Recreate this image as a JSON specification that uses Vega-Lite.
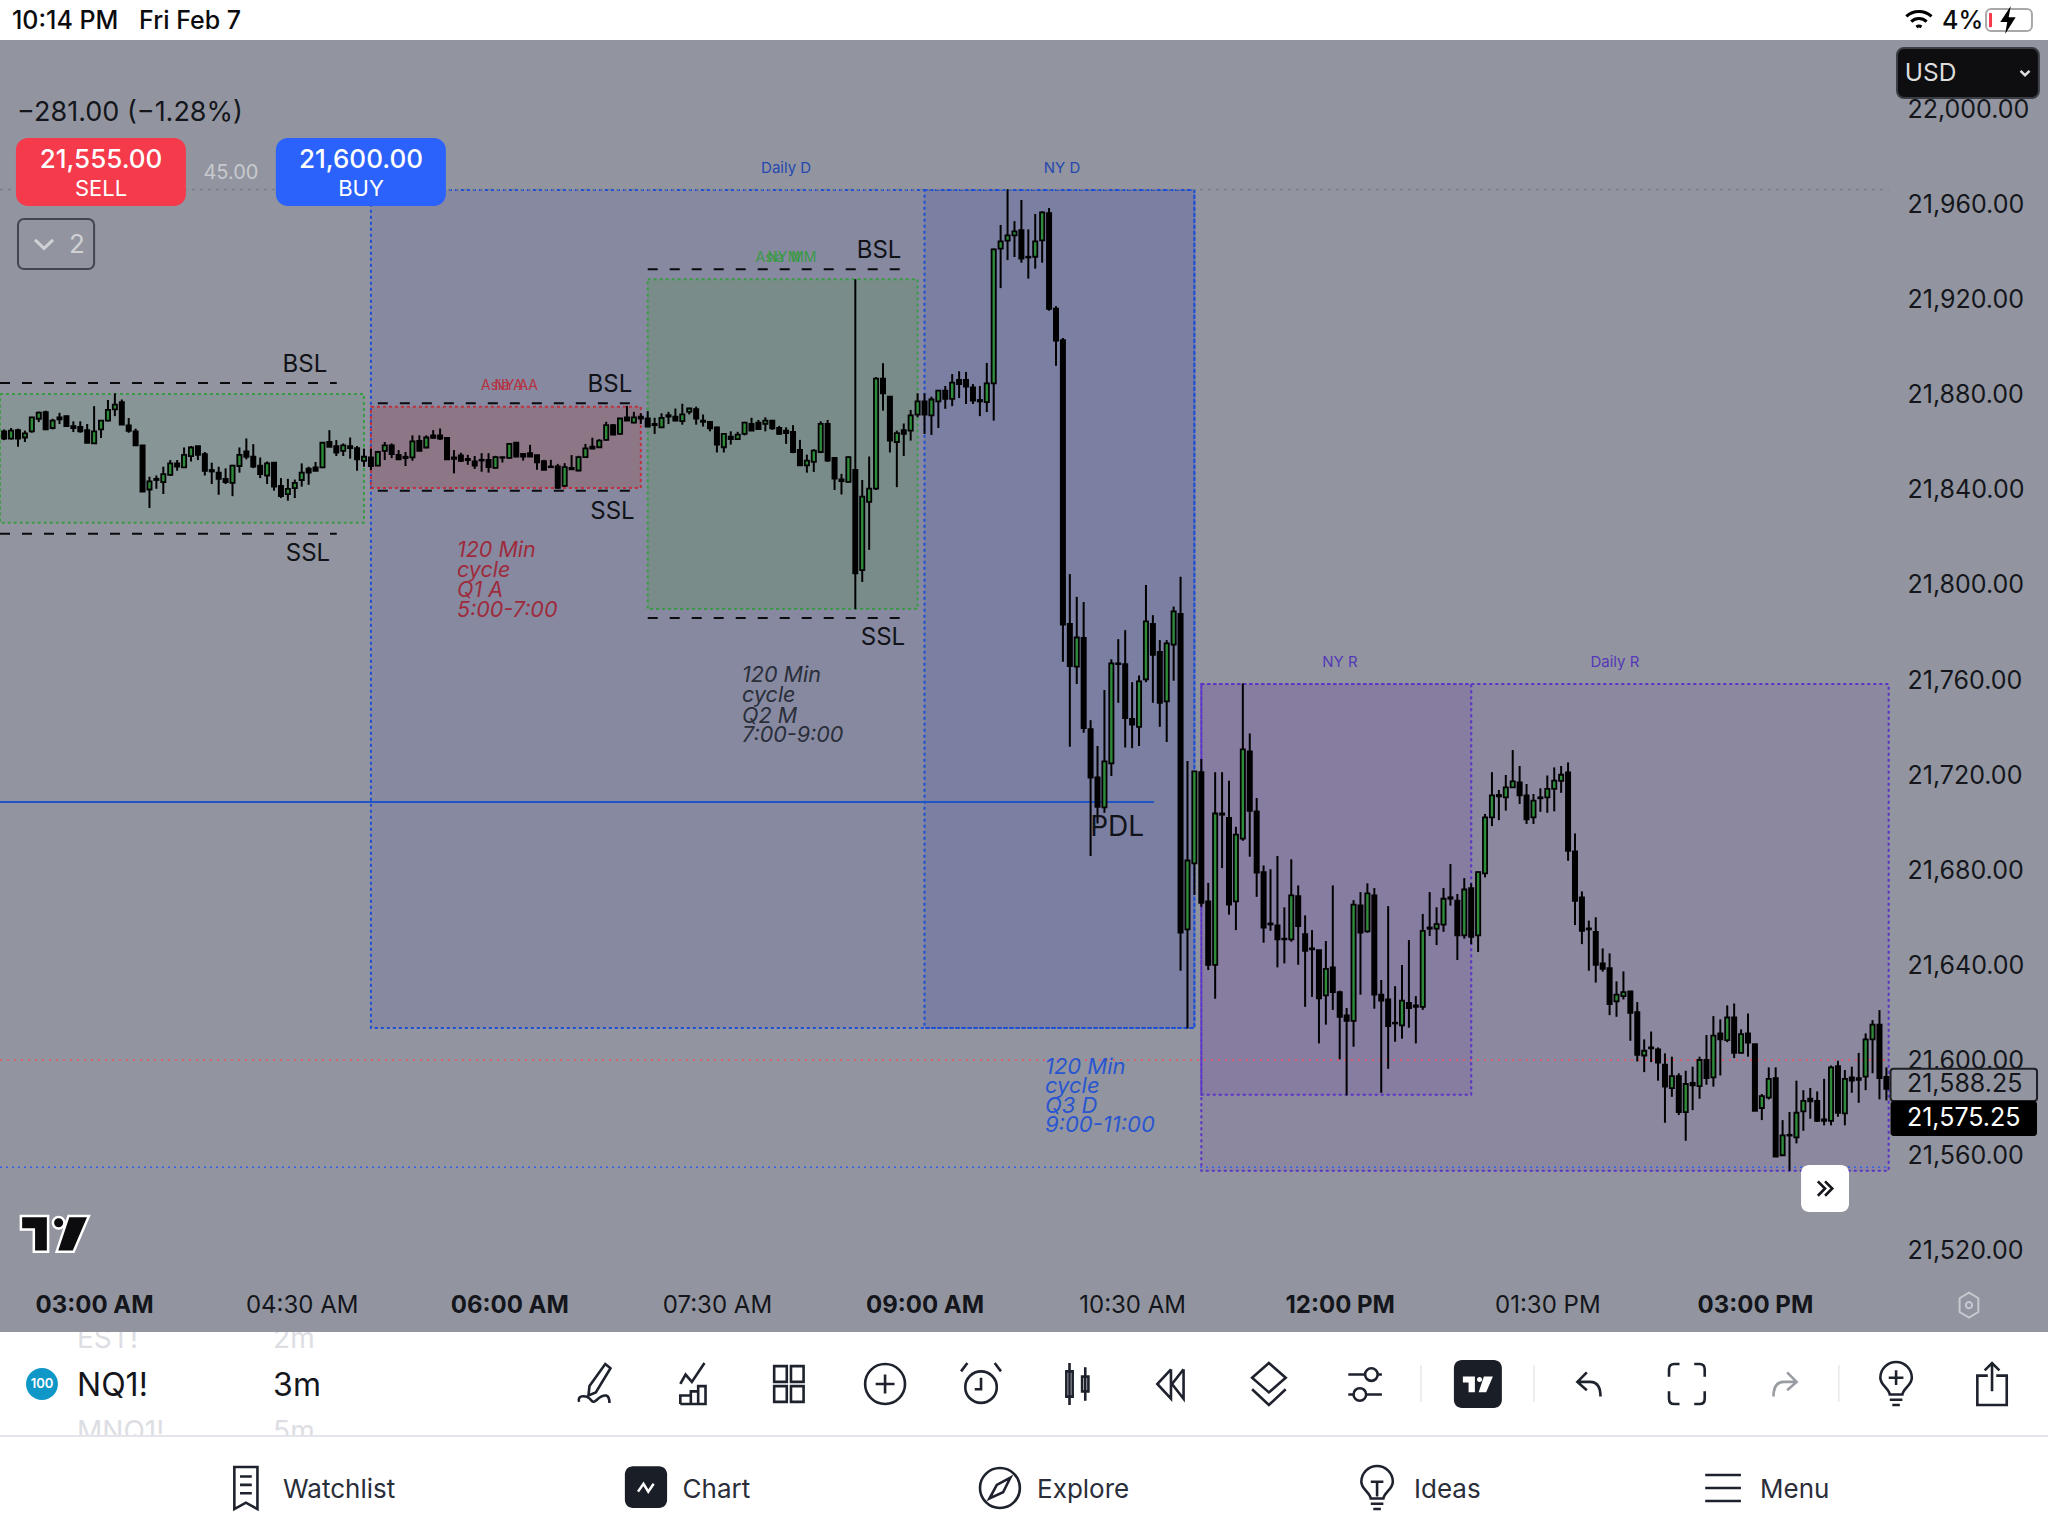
{
"$schema":"https://vega.github.io/schema/vega-lite/v6.json",
"width":2048,"height":1536,"padding":0,"autosize":{"type":"none"},
"background":"#ffffff",
"config":{"view":{"fill":"#92959f","stroke":null},"font":"Inter"},
"datasets":{"candles":[
{"minute":141,"open":21864.7,"high":21865.5,"low":21861,"close":21861.6},
{"minute":144,"open":21861.6,"high":21866.1,"low":21861.3,"close":21865},
{"minute":147,"open":21865.2,"high":21865.8,"low":21858.2,"close":21861.6},
{"minute":150,"open":21862.1,"high":21865,"low":21860.2,"close":21863.8},
{"minute":153,"open":21864.7,"high":21870.8,"low":21864.1,"close":21870.6},
{"minute":156,"open":21870,"high":21873,"low":21868.6,"close":21872.6},
{"minute":159,"open":21872.8,"high":21873.4,"low":21865.2,"close":21865.5},
{"minute":162,"open":21866.1,"high":21870,"low":21865.5,"close":21869.2},
{"minute":165,"open":21870.6,"high":21872.5,"low":21867.8,"close":21869.7},
{"minute":168,"open":21871.1,"high":21871.4,"low":21866.9,"close":21866.9},
{"minute":171,"open":21866.9,"high":21868.9,"low":21864.4,"close":21866.1},
{"minute":174,"open":21866.6,"high":21868.9,"low":21864.1,"close":21864.7},
{"minute":177,"open":21865.2,"high":21867.8,"low":21859.9,"close":21859.9},
{"minute":180,"open":21859.6,"high":21875.3,"low":21859.6,"close":21864.7},
{"minute":183,"open":21865.5,"high":21869.4,"low":21861.9,"close":21869.2},
{"minute":186,"open":21869.2,"high":21877.9,"low":21868.9,"close":21873.7},
{"minute":189,"open":21873.9,"high":21880.7,"low":21871.1,"close":21875.9},
{"minute":192,"open":21877,"high":21878.1,"low":21867.5,"close":21867.5},
{"minute":195,"open":21867.2,"high":21870.3,"low":21864.1,"close":21864.9},
{"minute":198,"open":21864.7,"high":21865.8,"low":21858.5,"close":21858.8},
{"minute":201,"open":21858.8,"high":21858.8,"low":21839.3,"close":21839.3},
{"minute":204,"open":21840.2,"high":21845.6,"low":21832.4,"close":21843.6},
{"minute":207,"open":21844.7,"high":21846.1,"low":21840.5,"close":21844.2},
{"minute":210,"open":21843.3,"high":21849.8,"low":21838.3,"close":21846.7},
{"minute":213,"open":21846.4,"high":21852.6,"low":21845.9,"close":21851.2},
{"minute":216,"open":21851.2,"high":21852.6,"low":21848.1,"close":21849.8},
{"minute":219,"open":21849.5,"high":21857.9,"low":21849.5,"close":21854.8},
{"minute":222,"open":21854.3,"high":21858.5,"low":21852,"close":21857.9},
{"minute":225,"open":21858.5,"high":21858.5,"low":21852.6,"close":21854.8},
{"minute":228,"open":21855.1,"high":21856,"low":21846.1,"close":21848.1},
{"minute":231,"open":21848.4,"high":21851.5,"low":21842.5,"close":21847.8},
{"minute":234,"open":21847.3,"high":21849.8,"low":21838,"close":21844.7},
{"minute":237,"open":21844.7,"high":21849.1,"low":21842.5,"close":21843.3},
{"minute":240,"open":21843,"high":21850.6,"low":21837.4,"close":21850.3},
{"minute":243,"open":21850.1,"high":21857.9,"low":21847.3,"close":21854.8},
{"minute":246,"open":21856.2,"high":21861.7,"low":21852.9,"close":21854},
{"minute":249,"open":21854,"high":21859.3,"low":21849.2,"close":21849.8},
{"minute":252,"open":21850.3,"high":21853.7,"low":21845,"close":21846.7},
{"minute":255,"open":21846.1,"high":21852,"low":21842.5,"close":21851.2},
{"minute":258,"open":21851.5,"high":21851.5,"low":21839.7,"close":21841.4},
{"minute":261,"open":21841.7,"high":21845,"low":21836.6,"close":21837.4},
{"minute":264,"open":21838.3,"high":21844.7,"low":21835.5,"close":21840.5},
{"minute":267,"open":21840.8,"high":21844.4,"low":21836.6,"close":21843},
{"minute":270,"open":21844.2,"high":21851.2,"low":21841.4,"close":21847.3},
{"minute":273,"open":21849,"high":21849.8,"low":21842.2,"close":21847.3},
{"minute":276,"open":21849.5,"high":21851.8,"low":21848.1,"close":21848.1},
{"minute":279,"open":21849.5,"high":21860.2,"low":21849.2,"close":21859.9},
{"minute":282,"open":21860.2,"high":21865.2,"low":21858.2,"close":21858.2},
{"minute":285,"open":21858.5,"high":21861,"low":21854.3,"close":21855.7},
{"minute":288,"open":21856.5,"high":21859.6,"low":21854.3,"close":21858.8},
{"minute":291,"open":21858.5,"high":21862.1,"low":21853.2,"close":21857.6},
{"minute":294,"open":21857.6,"high":21858.5,"low":21848.1,"close":21852.9},
{"minute":297,"open":21852.3,"high":21857.4,"low":21849.8,"close":21854},
{"minute":300,"open":21853.7,"high":21857.4,"low":21848.4,"close":21850.1},
{"minute":303,"open":21850.3,"high":21856.5,"low":21850.3,"close":21856},
{"minute":306,"open":21856.5,"high":21860.2,"low":21852.6,"close":21858.8},
{"minute":309,"open":21858.8,"high":21859.6,"low":21853.4,"close":21855.1},
{"minute":312,"open":21854.8,"high":21856.8,"low":21852.6,"close":21852.9},
{"minute":315,"open":21854,"high":21856,"low":21850.1,"close":21853.4},
{"minute":318,"open":21853.7,"high":21863,"low":21852.3,"close":21860.5},
{"minute":321,"open":21860.7,"high":21863,"low":21856.5,"close":21856.5},
{"minute":324,"open":21857.9,"high":21863,"low":21857.6,"close":21862.1},
{"minute":327,"open":21863,"high":21865.2,"low":21861.6,"close":21861.9},
{"minute":330,"open":21863,"high":21865.9,"low":21861,"close":21861.6},
{"minute":333,"open":21861.9,"high":21861.9,"low":21852.9,"close":21852.9},
{"minute":336,"open":21853.7,"high":21856.8,"low":21847,"close":21853.1},
{"minute":339,"open":21854.6,"high":21855.7,"low":21851.8,"close":21852.3},
{"minute":342,"open":21853.1,"high":21854.8,"low":21850.6,"close":21852.6},
{"minute":345,"open":21852,"high":21854.3,"low":21848.9,"close":21850.3},
{"minute":348,"open":21852.7,"high":21855.5,"low":21847.7,"close":21852.4},
{"minute":351,"open":21852.7,"high":21855.5,"low":21847.3,"close":21849.6},
{"minute":354,"open":21849.3,"high":21854.4,"low":21849,"close":21853.8},
{"minute":357,"open":21853.8,"high":21854.1,"low":21851.6,"close":21853.6},
{"minute":360,"open":21853.5,"high":21859.4,"low":21853.3,"close":21859.4},
{"minute":363,"open":21859.9,"high":21860.2,"low":21853.8,"close":21854.1},
{"minute":366,"open":21855.2,"high":21855.5,"low":21852.4,"close":21854.1},
{"minute":369,"open":21855.5,"high":21859,"low":21854.1,"close":21854.1},
{"minute":372,"open":21854.7,"high":21854.8,"low":21848.5,"close":21851.6},
{"minute":375,"open":21852.1,"high":21852.7,"low":21848.5,"close":21848.5},
{"minute":378,"open":21849.9,"high":21852.7,"low":21849.3,"close":21849.6},
{"minute":381,"open":21849.9,"high":21851,"low":21840.6,"close":21840.9},
{"minute":384,"open":21841.7,"high":21851.3,"low":21841.4,"close":21849.6},
{"minute":387,"open":21849.3,"high":21854.7,"low":21848.5,"close":21848.7},
{"minute":390,"open":21848.2,"high":21854.4,"low":21847.9,"close":21853.8},
{"minute":393,"open":21853.8,"high":21859.4,"low":21853.5,"close":21857.5},
{"minute":396,"open":21858.3,"high":21862,"low":21857.2,"close":21857.4},
{"minute":399,"open":21858,"high":21861.4,"low":21857.7,"close":21860.8},
{"minute":402,"open":21861.1,"high":21868.7,"low":21860.8,"close":21867.3},
{"minute":405,"open":21867.3,"high":21867.8,"low":21863,"close":21863.3},
{"minute":408,"open":21863.6,"high":21870.3,"low":21863.3,"close":21870.1},
{"minute":411,"open":21870.6,"high":21875.4,"low":21869.2,"close":21869.2},
{"minute":414,"open":21868.4,"high":21872.9,"low":21868.1,"close":21870.6},
{"minute":417,"open":21870.9,"high":21872.3,"low":21867.8,"close":21870.1},
{"minute":420,"open":21870.1,"high":21873.2,"low":21866.7,"close":21866.7},
{"minute":423,"open":21867.8,"high":21870.4,"low":21863.6,"close":21867.3},
{"minute":426,"open":21866.4,"high":21872.3,"low":21866.4,"close":21870.4},
{"minute":429,"open":21871.5,"high":21872.9,"low":21867.8,"close":21870.9},
{"minute":432,"open":21870.9,"high":21874.3,"low":21868.9,"close":21869.2},
{"minute":435,"open":21869,"high":21876.3,"low":21867.5,"close":21871.8},
{"minute":438,"open":21872.9,"high":21874.6,"low":21871.8,"close":21874.3},
{"minute":441,"open":21874,"high":21875.1,"low":21867.5,"close":21870.1},
{"minute":444,"open":21869.2,"high":21871.8,"low":21866.7,"close":21868.7},
{"minute":447,"open":21868.7,"high":21868.9,"low":21864.7,"close":21865.9},
{"minute":450,"open":21866.4,"high":21866.7,"low":21855.8,"close":21859.1},
{"minute":453,"open":21858,"high":21863.9,"low":21855.8,"close":21863.6},
{"minute":456,"open":21862.5,"high":21864.7,"low":21859.1,"close":21861.4},
{"minute":459,"open":21861.4,"high":21864.5,"low":21861.1,"close":21863.3},
{"minute":462,"open":21863.6,"high":21868.7,"low":21863,"close":21868.4},
{"minute":465,"open":21867.8,"high":21870.4,"low":21865,"close":21865},
{"minute":468,"open":21868.4,"high":21869.5,"low":21865.3,"close":21865.6},
{"minute":471,"open":21867.8,"high":21870.6,"low":21864.7,"close":21869.2},
{"minute":474,"open":21869.2,"high":21869.5,"low":21865.3,"close":21865.9},
{"minute":477,"open":21866.1,"high":21867,"low":21863.3,"close":21863.6},
{"minute":480,"open":21865,"high":21866.4,"low":21859.4,"close":21863.9},
{"minute":483,"open":21864.5,"high":21867.3,"low":21855.5,"close":21856},
{"minute":486,"open":21856.9,"high":21861.1,"low":21850.1,"close":21850.4},
{"minute":489,"open":21850.4,"high":21854.9,"low":21847.3,"close":21852.4},
{"minute":492,"open":21851.8,"high":21857.2,"low":21847.6,"close":21856.6},
{"minute":495,"open":21856,"high":21868.9,"low":21855.5,"close":21867.8},
{"minute":498,"open":21867.8,"high":21869.5,"low":21851.8,"close":21852.4},
{"minute":501,"open":21853.5,"high":21853.8,"low":21840,"close":21844.8},
{"minute":504,"open":21844.5,"high":21846.8,"low":21838.1,"close":21843.7},
{"minute":507,"open":21843.4,"high":21854.1,"low":21843.1,"close":21853.8},
{"minute":510,"open":21848.5,"high":21928.7,"low":21789.8,"close":21804.9},
{"minute":513,"open":21806.3,"high":21844.2,"low":21801.3,"close":21837.2},
{"minute":516,"open":21835,"high":21854.1,"low":21814.8,"close":21840.6},
{"minute":519,"open":21840.6,"high":21887.5,"low":21840,"close":21886.9},
{"minute":522,"open":21886.9,"high":21893.4,"low":21873.4,"close":21880.7},
{"minute":525,"open":21879.3,"high":21879.6,"low":21855.8,"close":21860.8},
{"minute":528,"open":21860.2,"high":21865,"low":21841.2,"close":21863.9},
{"minute":531,"open":21865.2,"high":21868,"low":21854.3,"close":21863.6},
{"minute":534,"open":21865,"high":21873.7,"low":21860.8,"close":21871.4},
{"minute":537,"open":21871.7,"high":21880.7,"low":21870.6,"close":21877.3},
{"minute":540,"open":21877.3,"high":21880.7,"low":21863.6,"close":21871.7},
{"minute":543,"open":21871.4,"high":21879.3,"low":21863.2,"close":21878.1},
{"minute":546,"open":21877.3,"high":21881.8,"low":21866.1,"close":21881.8},
{"minute":549,"open":21881.8,"high":21883.8,"low":21874.2,"close":21878.4},
{"minute":552,"open":21878.4,"high":21888.8,"low":21875.3,"close":21885.2},
{"minute":555,"open":21886.3,"high":21890,"low":21878.7,"close":21884.6},
{"minute":558,"open":21886.3,"high":21889.7,"low":21876.2,"close":21883.5},
{"minute":561,"open":21883.2,"high":21884.6,"low":21876.2,"close":21877.6},
{"minute":564,"open":21877.9,"high":21883.8,"low":21871.1,"close":21877.3},
{"minute":567,"open":21877,"high":21893.5,"low":21872.8,"close":21884.9},
{"minute":570,"open":21884.9,"high":21941.7,"low":21869.2,"close":21941.3},
{"minute":573,"open":21941.6,"high":21951.6,"low":21925,"close":21944.7},
{"minute":576,"open":21945,"high":21966.6,"low":21936.8,"close":21947.2},
{"minute":579,"open":21947.2,"high":21953.2,"low":21938.1,"close":21948.9},
{"minute":582,"open":21949.4,"high":21962.1,"low":21935.7,"close":21937.4},
{"minute":585,"open":21938.2,"high":21949.7,"low":21929,"close":21937.9},
{"minute":588,"open":21938.2,"high":21956.2,"low":21933.2,"close":21944.7},
{"minute":591,"open":21945.1,"high":21957.3,"low":21935.7,"close":21956.9},
{"minute":594,"open":21956.6,"high":21958.7,"low":21915.5,"close":21916.3},
{"minute":597,"open":21916.3,"high":21917.4,"low":21892.3,"close":21902.9},
{"minute":600,"open":21903.1,"high":21904,"low":21767.7,"close":21783.3},
{"minute":603,"open":21783.6,"high":21804.6,"low":21731.9,"close":21765.9},
{"minute":606,"open":21765.6,"high":21795,"low":21758.3,"close":21777.9},
{"minute":609,"open":21777.7,"high":21792.8,"low":21737.8,"close":21739.8},
{"minute":612,"open":21739.3,"high":21743.1,"low":21685.9,"close":21718.9},
{"minute":615,"open":21719,"high":21732.2,"low":21699.6,"close":21706.6},
{"minute":618,"open":21706.4,"high":21755.8,"low":21704.1,"close":21725.7},
{"minute":621,"open":21724.9,"high":21768.7,"low":21719.6,"close":21767},
{"minute":624,"open":21767,"high":21777.2,"low":21750.4,"close":21766.7},
{"minute":627,"open":21766.7,"high":21781,"low":21731.6,"close":21744},
{"minute":630,"open":21743.6,"high":21759.1,"low":21731.3,"close":21741.2},
{"minute":633,"open":21740.3,"high":21761.9,"low":21732.2,"close":21759.4},
{"minute":636,"open":21760.3,"high":21800,"low":21759.1,"close":21784.7},
{"minute":639,"open":21783.6,"high":21787.3,"low":21750.4,"close":21770.6},
{"minute":642,"open":21771.8,"high":21776.8,"low":21740.3,"close":21750.4},
{"minute":645,"open":21751,"high":21776.8,"low":21733.9,"close":21775.4},
{"minute":648,"open":21774.9,"high":21790.9,"low":21759.7,"close":21788.9},
{"minute":651,"open":21787.8,"high":21803.5,"low":21637.6,"close":21653.6},
{"minute":654,"open":21655,"high":21725.9,"low":21613.3,"close":21684},
{"minute":657,"open":21682.8,"high":21721.5,"low":21669.5,"close":21721.5},
{"minute":660,"open":21721.2,"high":21726.7,"low":21664.5,"close":21666.2},
{"minute":663,"open":21666.8,"high":21674.6,"low":21637.9,"close":21640.1},
{"minute":666,"open":21640.1,"high":21721.2,"low":21625.8,"close":21703.8},
{"minute":669,"open":21703.8,"high":21721.2,"low":21680.8,"close":21703.3},
{"minute":672,"open":21701.9,"high":21717.6,"low":21661.2,"close":21665.4},
{"minute":675,"open":21666.8,"high":21698.2,"low":21654.7,"close":21694.9},
{"minute":678,"open":21693.2,"high":21758.6,"low":21692.3,"close":21730.8},
{"minute":681,"open":21729.9,"high":21737.5,"low":21685.6,"close":21704.9},
{"minute":684,"open":21704.7,"high":21710.3,"low":21668.7,"close":21678.9},
{"minute":687,"open":21679.1,"high":21681.9,"low":21649.4,"close":21655.8},
{"minute":690,"open":21657.5,"high":21680.3,"low":21654.4,"close":21657.1},
{"minute":693,"open":21656.7,"high":21685.9,"low":21639,"close":21650.8},
{"minute":696,"open":21651.1,"high":21664.3,"low":21640.7,"close":21650.8},
{"minute":699,"open":21650.8,"high":21684.5,"low":21649.8,"close":21669.3},
{"minute":702,"open":21669,"high":21673.5,"low":21640.1,"close":21656.4},
{"minute":705,"open":21653,"high":21660.9,"low":21622.4,"close":21646},
{"minute":708,"open":21647,"high":21654.7,"low":21626.6,"close":21646.6},
{"minute":711,"open":21646.3,"high":21646.3,"low":21607,"close":21626},
{"minute":714,"open":21627.2,"high":21650.1,"low":21614.9,"close":21638.4},
{"minute":717,"open":21639,"high":21673.5,"low":21621.1,"close":21628.6},
{"minute":720,"open":21628.6,"high":21629.2,"low":21600.3,"close":21618.2},
{"minute":723,"open":21618.8,"high":21621.9,"low":21585.1,"close":21616.5},
{"minute":726,"open":21616.5,"high":21667.3,"low":21605.6,"close":21665.4},
{"minute":729,"open":21665.1,"high":21670.7,"low":21627.5,"close":21653.6},
{"minute":732,"open":21654.2,"high":21674.4,"low":21653.6,"close":21670.2},
{"minute":735,"open":21669.3,"high":21672.4,"low":21621.6,"close":21627.5},
{"minute":738,"open":21627.5,"high":21633.7,"low":21586.2,"close":21625},
{"minute":741,"open":21625.5,"high":21664.8,"low":21596.3,"close":21614.3},
{"minute":744,"open":21615.7,"high":21631.1,"low":21607.7,"close":21615.4},
{"minute":747,"open":21614.6,"high":21640,"low":21609,"close":21625},
{"minute":750,"open":21624.1,"high":21650.5,"low":21613.6,"close":21621.9},
{"minute":753,"open":21623,"high":21626.9,"low":21607,"close":21622.4},
{"minute":756,"open":21622.4,"high":21661.5,"low":21621.1,"close":21654.4},
{"minute":759,"open":21655.8,"high":21670.7,"low":21652.2,"close":21655.3},
{"minute":762,"open":21655.3,"high":21664.3,"low":21648.4,"close":21657.2},
{"minute":765,"open":21657,"high":21672.4,"low":21654,"close":21667.9},
{"minute":768,"open":21668.5,"high":21682.5,"low":21665,"close":21667.9},
{"minute":771,"open":21667.1,"high":21669.9,"low":21642.1,"close":21652.5},
{"minute":774,"open":21652.5,"high":21676.6,"low":21651.1,"close":21671.8},
{"minute":777,"open":21672.4,"high":21674.4,"low":21648.8,"close":21651.9},
{"minute":780,"open":21652.5,"high":21679.4,"low":21645.5,"close":21679.1},
{"minute":783,"open":21678.6,"high":21703.6,"low":21676.9,"close":21702.2},
{"minute":786,"open":21702.2,"high":21721.2,"low":21698.5,"close":21711.4},
{"minute":789,"open":21711.6,"high":21713.7,"low":21701,"close":21711},
{"minute":792,"open":21710.6,"high":21720,"low":21705,"close":21714.8},
{"minute":795,"open":21714.8,"high":21730.5,"low":21714.8,"close":21717.3},
{"minute":798,"open":21716.9,"high":21723.8,"low":21707.8,"close":21711.4},
{"minute":801,"open":21711.4,"high":21716.2,"low":21699.4,"close":21701.3},
{"minute":804,"open":21702.2,"high":21712,"low":21699.4,"close":21709.2},
{"minute":807,"open":21710.6,"high":21714.4,"low":21704.5,"close":21710.2},
{"minute":810,"open":21710.6,"high":21719.8,"low":21704.1,"close":21714.2},
{"minute":813,"open":21714.2,"high":21723.2,"low":21704.7,"close":21717.6},
{"minute":816,"open":21717.5,"high":21723.8,"low":21712.5,"close":21720.1},
{"minute":819,"open":21721.1,"high":21725.3,"low":21683.9,"close":21688.1},
{"minute":822,"open":21687.8,"high":21695.4,"low":21656.8,"close":21667},
{"minute":825,"open":21668.5,"high":21671,"low":21648.8,"close":21654.4},
{"minute":828,"open":21655.4,"high":21658.7,"low":21637.6,"close":21655},
{"minute":831,"open":21653.9,"high":21660.1,"low":21632.6,"close":21640.1},
{"minute":834,"open":21640.7,"high":21647,"low":21637.2,"close":21638.4},
{"minute":837,"open":21638.7,"high":21644.9,"low":21618.9,"close":21623.5},
{"minute":840,"open":21624.7,"high":21633.1,"low":21618.2,"close":21627.5},
{"minute":843,"open":21626.9,"high":21637.3,"low":21625.5,"close":21628.6},
{"minute":846,"open":21628.9,"high":21628.9,"low":21608.1,"close":21619.9},
{"minute":849,"open":21620.2,"high":21624.4,"low":21599.4,"close":21602.2},
{"minute":852,"open":21601.9,"high":21608.7,"low":21594.9,"close":21603.9},
{"minute":855,"open":21605.3,"high":21612,"low":21599.1,"close":21604.9},
{"minute":858,"open":21604.5,"high":21605.3,"low":21591.3,"close":21598.9},
{"minute":861,"open":21598,"high":21602.8,"low":21573.6,"close":21588.8},
{"minute":864,"open":21588.2,"high":21601.4,"low":21584.5,"close":21593.2},
{"minute":867,"open":21593.2,"high":21594.4,"low":21576.8,"close":21578.1},
{"minute":870,"open":21578.1,"high":21595.5,"low":21566,"close":21589.9},
{"minute":873,"open":21590.4,"high":21597.2,"low":21578.9,"close":21589.3},
{"minute":876,"open":21589,"high":21601.4,"low":21583.7,"close":21600},
{"minute":879,"open":21600,"high":21610.5,"low":21589.6,"close":21592.4},
{"minute":882,"open":21592.7,"high":21618.5,"low":21588.8,"close":21610.3},
{"minute":885,"open":21611.2,"high":21617.1,"low":21593.5,"close":21608.7},
{"minute":888,"open":21608.4,"high":21623,"low":21607.5,"close":21617.9},
{"minute":891,"open":21617.9,"high":21623.8,"low":21600.8,"close":21603},
{"minute":894,"open":21603,"high":21612.9,"low":21602.8,"close":21610.9},
{"minute":897,"open":21611.2,"high":21619.6,"low":21601.4,"close":21607.3},
{"minute":900,"open":21606.7,"high":21606.7,"low":21578.6,"close":21578.6},
{"minute":903,"open":21579.8,"high":21585.7,"low":21574.7,"close":21584.8},
{"minute":906,"open":21584.2,"high":21596.9,"low":21583.4,"close":21592.1},
{"minute":909,"open":21592.4,"high":21596.9,"low":21559.3,"close":21559.3},
{"minute":912,"open":21559.9,"high":21574.7,"low":21559.6,"close":21568.3},
{"minute":915,"open":21568.5,"high":21578.1,"low":21553.4,"close":21568.2},
{"minute":918,"open":21567.4,"high":21591.3,"low":21564.9,"close":21577.8},
{"minute":921,"open":21578.4,"high":21587.3,"low":21570.2,"close":21582.8},
{"minute":924,"open":21583.7,"high":21588.2,"low":21575.3,"close":21582.6},
{"minute":927,"open":21582.8,"high":21586.8,"low":21573.9,"close":21574.4},
{"minute":930,"open":21575,"high":21592.1,"low":21572.5,"close":21574.4},
{"minute":933,"open":21574.4,"high":21597.7,"low":21572.5,"close":21596.9},
{"minute":936,"open":21597.4,"high":21599.7,"low":21576.1,"close":21577.8},
{"minute":939,"open":21577.5,"high":21595.8,"low":21572.5,"close":21592.1},
{"minute":942,"open":21592.7,"high":21597.2,"low":21586.2,"close":21591.3},
{"minute":945,"open":21592.4,"high":21603,"low":21582,"close":21591.6},
{"minute":948,"open":21593,"high":21611.2,"low":21587.3,"close":21608.7},
{"minute":951,"open":21608.7,"high":21616.8,"low":21594.4,"close":21614.9},
{"minute":954,"open":21614.9,"high":21621,"low":21583.4,"close":21592.4},
{"minute":957,"open":21592.9,"high":21596.9,"low":21583,"close":21587.9}
]},
"encoding":{
"x":{"field":"minute","type":"quantitative","scale":{"domain":[139.2,1027.06],"nice":false,"zero":false,"padding":0},
 "axis":{"orient":"bottom","title":null,"values":[180,270,360,450,540,630,720,810,900],"labelExpr":"timeFormat(datetime(2025,1,7,0,datum.value),'%I:%M %p')","labelFont":"Inter","labelFontSize":24,"labelColor":"#14161c","labelPadding":-243,"labelBound":false,"labelFlush":false,"labelOverlap":false,"domain":false,"ticks":false,"grid":false,"labelFontWeight":{"condition":{"test":"datum.value % 180 == 0","value":"bold"},"value":"normal"}}},
"y":{"field":"price","type":"quantitative","scale":{"domain":[21399.6,22046.3],"nice":false,"zero":false},
 "axis":{"orient":"right","title":null,"values":[21520,21560,21600,21640,21680,21720,21760,21800,21840,21880,21920,21960,22000],"format":",.2f","labelFont":"Inter","labelFontSize":25,"labelColor":"#14161c","labelAlign":"left","labelPadding":-141,"labelBound":false,"labelFlush":false,"labelOverlap":false,"domain":false,"ticks":false,"grid":false}}
},
"layer":[
{"data":{"values":[{"minute":139.2,"minute2":297,"price":21880.4,"price2":21826.2}]},
 "mark":{"type":"rect","fill":"#4f9c62","fillOpacity":0.15,"stroke":"#3a9a45","strokeWidth":2,"strokeDash":[3,3]},"encoding":{"x2":{"field":"minute2"},"y2":{"field":"price2"}}},
{"data":{"values":[{"minute":300,"minute2":657,"price":21966.3,"price2":21613.5},{"minute":540,"minute2":657,"price":21966.3,"price2":21613.5}]},
 "mark":{"type":"rect","fill":"#2e39af","fillOpacity":0.12,"stroke":"#1f4fd6","strokeWidth":2,"strokeDash":[3,3]},"encoding":{"x2":{"field":"minute2"},"y2":{"field":"price2"}}},
{"data":{"values":[{"minute":660,"minute2":958,"price":21758.3,"price2":21553.4},{"minute":660,"minute2":777,"price":21758.3,"price2":21585.4}]},
 "mark":{"type":"rect","fill":"#6031af","fillOpacity":0.12,"stroke":"#5c33c8","strokeWidth":2,"strokeDash":[3,3]},"encoding":{"x2":{"field":"minute2"},"y2":{"field":"price2"}}},
{"data":{"values":[{"minute":420,"minute2":537,"price":21928.7,"price2":21789.9}]},
 "mark":{"type":"rect","fill":"#369e0d","fillOpacity":0.15,"stroke":"#3a9a45","strokeWidth":2,"strokeDash":[3,3]},"encoding":{"x2":{"field":"minute2"},"y2":{"field":"price2"}}},
{"data":{"values":[{"minute":300,"minute2":417,"price":21875,"price2":21840.8}]},
 "mark":{"type":"rect","fill":"#a93023","fillOpacity":0.2,"stroke":"#c0303f","strokeWidth":2,"strokeDash":[3,3]},"encoding":{"x2":{"field":"minute2"},"y2":{"field":"price2"}}},
{"data":{"values":[{"minute":139.2,"minute2":958,"price":21966.5}]},"mark":{"type":"rule","stroke":"#7d808a","strokeWidth":1.5,"strokeDash":[3,5]},"encoding":{"x2":{"field":"minute2"}}},
{"data":{"values":[{"minute":139.2,"minute2":958,"price":21554.9}]},"mark":{"type":"rule","stroke":"#3560e8","strokeWidth":1.5,"strokeDash":[2,4]},"encoding":{"x2":{"field":"minute2"}}},
{"data":{"values":[{"minute":139.2,"minute2":958,"price":21600}]},"mark":{"type":"rule","stroke":"#f0505f","strokeWidth":1.5,"strokeDash":[2,5]},"encoding":{"x2":{"field":"minute2"}}},
{"data":{"values":[{"minute":139.2,"minute2":285.2,"price":21885},{"minute":139.2,"minute2":285.2,"price":21821.6},{"minute":303,"minute2":412.3,"price":21876.5},{"minute":303,"minute2":412.3,"price":21839.7},{"minute":420,"minute2":529.4,"price":21932.9},{"minute":420,"minute2":529.4,"price":21786.1}]},
 "mark":{"type":"rule","stroke":"#0b0b0d","strokeWidth":2,"strokeDash":[10,12]},"encoding":{"x2":{"field":"minute2"}}},
{"data":{"values":[{"minute":139.2,"minute2":639.4,"price":21708.6}]},"mark":{"type":"rule","stroke":"#2055c8","strokeWidth":2},"encoding":{"x2":{"field":"minute2"}}},
{"data":{"name":"candles"},"mark":{"type":"rule","stroke":"#000000","strokeWidth":2},
 "encoding":{"y":{"field":"high","type":"quantitative","scale":{"domain":[21399.6,22046.3],"nice":false,"zero":false},"axis":{"orient":"right","title":null,"values":[21520,21560,21600,21640,21680,21720,21760,21800,21840,21880,21920,21960,22000],"format":",.2f","labelFont":"Inter","labelFontSize":25,"labelColor":"#14161c","labelAlign":"left","labelPadding":-141,"labelBound":false,"labelFlush":false,"labelOverlap":false,"domain":false,"ticks":false,"grid":false}},"y2":{"field":"low"}}},
{"data":{"name":"candles"},"mark":{"type":"bar","size":4.2,"stroke":"#000000","strokeWidth":1.8},
 "encoding":{"y":{"field":"open","type":"quantitative","scale":{"domain":[21399.6,22046.3],"nice":false,"zero":false},"axis":{"orient":"right","title":null,"values":[21520,21560,21600,21640,21680,21720,21760,21800,21840,21880,21920,21960,22000],"format":",.2f","labelFont":"Inter","labelFontSize":25,"labelColor":"#14161c","labelAlign":"left","labelPadding":-141,"labelBound":false,"labelFlush":false,"labelOverlap":false,"domain":false,"ticks":false,"grid":false}},"y2":{"field":"close"},
 "color":{"condition":{"test":"datum.close>datum.open","value":"#2e8b3a"},"value":"#000000"}}},
{"data":{"values":[{"label":"BSL","minute":271.4,"price":21893},{"label":"SSL","minute":272.7,"price":21813.5},{"label":"BSL","minute":403.6,"price":21884.6},{"label":"SSL","minute":404.7,"price":21831.1},{"label":"BSL","minute":520.3,"price":21941.2},{"label":"SSL","minute":522,"price":21778.1}]},
 "mark":{"type":"text","font":"Inter","fontSize":24,"dy":1,"color":"#111318","baseline":"middle","align":"center"},"encoding":{"text":{"field":"label"}}},
{"data":{"values":[{"label":"PDL","minute":623.5,"price":21698.1}]},"mark":{"type":"text","font":"Inter","fontSize":28,"dy":1,"color":"#111318","baseline":"middle","align":"center"},"encoding":{"text":{"field":"label"}}},
{"data":{"values":[{"label":"NY AA","minute":363,"price":21884.2},{"label":"Asia A","minute":356.8,"price":21884.2}]},"mark":{"type":"text","font":"Inter","fontSize":14,"dy":1,"color":"#b8303f","baseline":"middle","align":"center"},"encoding":{"text":{"field":"label"}}},
{"data":{"values":[{"label":"NY MM","minute":482.5,"price":21938.1},{"label":"Asia M","minute":476.5,"price":21938.1}]},"mark":{"type":"text","font":"Inter","fontSize":14,"dy":1,"color":"#3a9a45","baseline":"middle","align":"center"},"encoding":{"text":{"field":"label"}}},
{"data":{"values":[{"label":"Daily D","minute":480,"price":21976},{"label":"NY D","minute":599.6,"price":21976}]},"mark":{"type":"text","font":"Inter","fontSize":15,"dy":1,"color":"#2448b0","baseline":"middle","align":"center"},"encoding":{"text":{"field":"label"}}},
{"data":{"values":[{"label":"NY R","minute":720.1,"price":21768},{"label":"Daily R","minute":839.3,"price":21768}]},"mark":{"type":"text","font":"Inter","fontSize":15,"dy":1,"color":"#5438b8","baseline":"middle","align":"center"},"encoding":{"text":{"field":"label"}}},
{"data":{"values":[{"label":"120 Min","minute":337.3,"price":21814.7},{"label":"cycle","minute":337.3,"price":21806.3},{"label":"Q1 A","minute":337.3,"price":21797.9},{"label":"5:00-7:00","minute":337.3,"price":21789.5}]},"mark":{"type":"text","font":"Inter","fontSize":21.5,"dy":1,"fontStyle":"italic","color":"#9e2b3c","baseline":"middle","align":"left"},"encoding":{"text":{"field":"label"}}},
{"data":{"values":[{"label":"120 Min","minute":460.9,"price":21762.1},{"label":"cycle","minute":460.9,"price":21753.7},{"label":"Q2 M","minute":460.9,"price":21744.8},{"label":"7:00-9:00","minute":460.9,"price":21736.8}]},"mark":{"type":"text","font":"Inter","fontSize":21.5,"dy":1,"fontStyle":"italic","color":"#2a2e39","baseline":"middle","align":"left"},"encoding":{"text":{"field":"label"}}},
{"data":{"values":[{"label":"120 Min","minute":592.2,"price":21597.5},{"label":"cycle","minute":592.2,"price":21589.5},{"label":"Q3 D","minute":592.2,"price":21581},{"label":"9:00-11:00","minute":592.2,"price":21573}]},"mark":{"type":"text","font":"Inter","fontSize":22,"dy":1,"fontStyle":"italic","color":"#2a55d0","baseline":"middle","align":"left"},"encoding":{"text":{"field":"label"}}},
{"data":{"values":[{"minute":139.2,"minute2":1027.06,"price":22046.3,"price2":22029.5},{"minute":139.2,"minute2":1027.06,"price":21485.5,"price2":21399.6}]},"mark":{"type":"rect","fill":"#ffffff"},"encoding":{"x2":{"field":"minute2"},"y2":{"field":"price2"}}},
{"data":{"values":[{"label":"EST!","minute":172.6,"price":21482.9},{"label":"2m","minute":257.6,"price":21482.9},{"label":"MNQ1!","minute":172.6,"price":21443.8},{"label":"5m","minute":257.6,"price":21443.8}]},"mark":{"type":"text","font":"Inter","fontSize":28,"dy":2,"color":"#dcdee3","baseline":"middle","align":"left"},"encoding":{"text":{"field":"label"}}},
{"data":{"values":[{"minute":139.2,"minute2":1027.06,"price":21489.7,"price2":21485.5}]},"mark":{"type":"rect","fill":"#92959f"},"encoding":{"x2":{"field":"minute2"},"y2":{"field":"price2"}}},
{"data":{"values":[{"minute":139.2,"minute2":1027.06,"price":21441.7,"price2":21399.6}]},"mark":{"type":"rect","fill":"#ffffff","stroke":null},"encoding":{"x2":{"field":"minute2"},"y2":{"field":"price2"}}},
{"data":{"values":[{"minute":139.2,"minute2":1027.06,"price":21441.7}]},"mark":{"type":"rule","stroke":"#e3e5ea","strokeWidth":2},"encoding":{"x2":{"field":"minute2"}}},
{"data":{"values":[{"minute":755.2,"price":21471.6,"price2":21456},{"minute":804.2,"price":21471.6,"price2":21456},{"minute":936.4,"price":21471.6,"price2":21456}]},"mark":{"type":"rule","stroke":"#e8e8ea","strokeWidth":1.5},"encoding":{"y2":{"field":"price2"}}},
{"data":{"values":[{"minute":146.1,"minute2":219.8,"price":21988.2,"price2":21959.6}]},"mark":{"type":"rect","fill":"#f43a4b","cornerRadius":12},"encoding":{"x2":{"field":"minute2"},"y2":{"field":"price2"}}},
{"data":{"values":[{"minute":258.8,"minute2":332.5,"price":21988.2,"price2":21959.6}]},"mark":{"type":"rect","fill":"#2b62fb","cornerRadius":12},"encoding":{"x2":{"field":"minute2"},"y2":{"field":"price2"}}},
{"data":{"values":[{"minute":147,"minute2":180,"price":21954.1,"price2":21933}]},"mark":{"type":"rect","fill":"#92959f","stroke":"#42454f","strokeWidth":2,"cornerRadius":6},"encoding":{"x2":{"field":"minute2"},"y2":{"field":"price2"}}},
{"data":{"values":[{"minute":961.6,"minute2":1023.1,"price":22026.1,"price2":22005}]},"mark":{"type":"rect","fill":"#0e0e10","stroke":"#3c3e46","strokeWidth":2,"cornerRadius":7},"encoding":{"x2":{"field":"minute2"},"y2":{"field":"price2"}}},
{"data":{"values":[{"minute":958.8,"minute2":1022.3,"price":21596.3,"price2":21582.8}]},"mark":{"type":"rect","fill":"#92959f","stroke":"#1f2026","strokeWidth":2,"cornerRadius":3},"encoding":{"x2":{"field":"minute2"},"y2":{"field":"price2"}}},
{"data":{"values":[{"minute":958.8,"minute2":1022.3,"price":21582.7,"price2":21568}]},"mark":{"type":"rect","fill":"#000000","cornerRadius":3},"encoding":{"x2":{"field":"minute2"},"y2":{"field":"price2"}}},
{"data":{"values":[{"minute":920,"minute2":940.8,"price":21555.8,"price2":21536}]},"mark":{"type":"rect","fill":"#ffffff","cornerRadius":8},"encoding":{"x2":{"field":"minute2"},"y2":{"field":"price2"}}},
{"data":{"values":[{"minute":769.5,"minute2":790.3,"price":21473.7,"price2":21453.5},{"minute":410.1,"minute2":428.4,"price":21429,"price2":21411.4}]},"mark":{"type":"rect","fill":"#1a1e27","cornerRadius":8},"encoding":{"x2":{"field":"minute2"},"y2":{"field":"price2"}}},
{"data":{"values":[{"minute":1000.2,"minute2":1020.1,"price":22042.5,"price2":22033.2}]},"mark":{"type":"rect","fill":"#ffffff","stroke":"#a8a8a8","strokeWidth":2,"cornerRadius":5},"encoding":{"x2":{"field":"minute2"},"y2":{"field":"price2"}}},
{"data":{"values":[{"minute":1001.5,"minute2":1002.8,"price":22040.8,"price2":22034.9}]},"mark":{"type":"rect","fill":"#f43a4b"},"encoding":{"x2":{"field":"minute2"},"y2":{"field":"price2"}}},
{"data":{"values":[{"label":"10:14 PM","minute":144.4,"price":22038.3},{"label":"Fri Feb 7","minute":199.5,"price":22038.3},{"label":"4%","minute":981.1,"price":22038.3}]},"mark":{"type":"text","font":"Inter","fontSize":25,"dy":2,"fontWeight":500,"color":"#0c0c0e","baseline":"middle","align":"left"},"encoding":{"text":{"field":"label"}}},
{"data":{"values":[{"label":"−281.00 (−1.28%)","minute":146.6,"price":21999.1}]},"mark":{"type":"text","font":"Inter","fontSize":27,"dy":1,"color":"#14161c","baseline":"middle","align":"left"},"encoding":{"text":{"field":"label"}}},
{"data":{"values":[{"label":"21,555.00","minute":183,"price":21979.4},{"label":"21,600.00","minute":295.7,"price":21979.4}]},"mark":{"type":"text","font":"Inter","fontSize":26,"dy":1,"fontWeight":500,"color":"#ffffff","baseline":"middle","align":"center"},"encoding":{"text":{"field":"label"}}},
{"data":{"values":[{"label":"SELL","minute":183,"price":21967.1},{"label":"BUY","minute":295.7,"price":21967.1}]},"mark":{"type":"text","font":"Inter","fontSize":22,"dy":1,"color":"#ffffff","baseline":"middle","align":"center"},"encoding":{"text":{"field":"label"}}},
{"data":{"values":[{"label":"45.00","minute":239.3,"price":21973.9}]},"mark":{"type":"text","font":"Inter","fontSize":20,"dy":1,"color":"#c8c9ce","baseline":"middle","align":"center"},"encoding":{"text":{"field":"label"}}},
{"data":{"values":[{"label":"2","minute":172.6,"price":21943.6}]},"mark":{"type":"text","font":"Inter","fontSize":26,"dy":1,"color":"#d0d1d5","baseline":"middle","align":"center"},"encoding":{"text":{"field":"label"}}},
{"data":{"values":[{"label":"USD","minute":965,"price":22015.6}]},"mark":{"type":"text","font":"Inter","fontSize":24.5,"dy":1,"color":"#dddddd","baseline":"middle","align":"left"},"encoding":{"text":{"field":"label"}}},
{"data":{"values":[{"label":"21,588.25","minute":965.9,"price":21590.3}]},"mark":{"type":"text","font":"Inter","fontSize":25,"dy":1,"color":"#14161c","baseline":"middle","align":"left"},"encoding":{"text":{"field":"label"}}},
{"data":{"values":[{"label":"21,575.25","minute":965.9,"price":21576}]},"mark":{"type":"text","font":"Inter","fontSize":25,"dy":1,"color":"#ffffff","baseline":"middle","align":"left"},"encoding":{"text":{"field":"label"}}},
{"data":{"values":[{"label":"NQ1!","minute":172.6,"price":21463.6},{"label":"3m","minute":257.6,"price":21463.6}]},"mark":{"type":"text","font":"Inter","fontSize":32,"dy":2,"color":"#14161c","baseline":"middle","align":"left"},"encoding":{"text":{"field":"label"}}},
{"data":{"values":[{"minute":157.4,"price":21463.6}]},"mark":{"type":"circle","size":1018,"fill":"#0f97c8","opacity":1}},
{"data":{"values":[{"label":"100","minute":157.4,"price":21463.6}]},"mark":{"type":"text","font":"Inter","fontSize":13,"fontWeight":600,"color":"#ffffff","baseline":"middle","align":"center"},"encoding":{"text":{"field":"label"}}},
{"data":{"values":[{"label":"Watchlist","minute":261.9,"price":21419.8},{"label":"Chart","minute":435.1,"price":21419.8},{"label":"Explore","minute":588.8,"price":21419.8},{"label":"Ideas","minute":752.2,"price":21419.8},{"label":"Menu","minute":902.2,"price":21419.8}]},"mark":{"type":"text","font":"Inter","fontSize":26,"dy":2,"color":"#2a2e39","baseline":"middle","align":"left"},"encoding":{"text":{"field":"label"}}},
{"data":{"values":[
{"icon":"pen","minute":398.4,"price":21463.6},{"icon":"chart","minute":439.6,"price":21463.6},{"icon":"grid","minute":481.2,"price":21463.6},{"icon":"plus","minute":522.9,"price":21463.6},{"icon":"alarm","minute":564.5,"price":21463.6},{"icon":"candles","minute":606.5,"price":21463.6},{"icon":"rewind","minute":647.3,"price":21463.6},{"icon":"layers","minute":689.3,"price":21463.6},{"icon":"sliders","minute":731,"price":21463.6},{"icon":"undo","minute":828.5,"price":21463.6},{"icon":"full","minute":870.5,"price":21463.6},{"icon":"bulbplus","minute":961.2,"price":21463.6},{"icon":"share","minute":1002.8,"price":21463.6},
{"icon":"watch","minute":245.8,"price":21419.8},{"icon":"compass","minute":572.7,"price":21419.8},{"icon":"bulb","minute":736.2,"price":21419.8},{"icon":"menu","minute":886.2,"price":21419.8}]},
 "mark":{"type":"point","filled":false,"stroke":"#1e222d","strokeWidth":2.6,"size":1764,"opacity":1},
 "encoding":{"shape":{"field":"icon","type":"nominal","legend":null,"scale":{"domain":["pen","chart","grid","plus","alarm","candles","rewind","layers","sliders","undo","full","bulbplus","share","watch","compass","bulb","menu"],"range":[
 "M0.35 -0.95 L0.6 -0.75 L-0.1 0.4 L-0.45 0.55 L-0.4 0.1 Z M-0.9 0.85 C-1 0.5 -0.5 0.5 -0.3 0.8 C-0.1 1 0 0.5 0.4 0.55 C0.55 0.6 0.55 0.8 0.55 0.9",
 "M-0.6 0.95 H0.6 V0.1 H0.25 V0.95 M0.25 0.35 H-0.1 V0.95 M-0.1 0.55 H-0.6 V0.95 M-0.6 0 L-0.35 -0.45 L-0.05 -0.1 L0.55 -1",
 "M-0.7 -0.85 H-0.1 V-0.1 H-0.7 Z M0.1 -0.85 H0.7 V-0.1 H0.1 Z M-0.7 0.1 H-0.1 V0.85 H-0.7 Z M0.1 0.1 H0.7 V0.85 H0.1 Z",
 "M-0.95 0 A0.95 0.95 0 1 1 0.95 0 A0.95 0.95 0 1 1 -0.95 0 Z M-0.45 0 H0.45 M0 -0.45 V0.45",
 "M-0.75 0.15 A0.75 0.75 0 1 1 0.75 0.15 A0.75 0.75 0 1 1 -0.75 0.15 Z M0 -0.3 V0.25 H-0.3 M-0.95 -0.6 L-0.65 -1 M0.95 -0.6 L0.65 -1",
 "M-0.4 -1 V1 M-0.55 -0.6 H-0.25 V0.6 H-0.55 Z M0.35 -0.8 V0.8 M0.2 -0.35 H0.5 V0.35 H0.2 Z",
 "M-0.05 -0.7 L-0.7 0 L-0.05 0.7 V-0.7 M0.55 -0.7 L0 0 L0.55 0.7 V-0.7",
 "M0 -1 L0.8 -0.3 L0 0.4 L-0.8 -0.3 Z M-0.8 0.25 L0 1 L0.8 0.25",
 "M-0.8 -0.45 H0 M0.6 -0.45 H0.8 M0.3 -0.75 A0.3 0.3 0 1 1 0.3 -0.15 A0.3 0.3 0 1 1 0.3 -0.75 Z M-0.8 0.5 H-0.55 M0.05 0.5 H0.8 M-0.25 0.2 A0.3 0.3 0 1 1 -0.25 0.8 A0.3 0.3 0 1 1 -0.25 0.2 Z",
 "M-0.15 -0.55 L-0.6 -0.1 L-0.15 0.3 M-0.6 -0.1 H0 C0.4 -0.1 0.5 0.2 0.5 0.6",
 "M-0.35 -0.95 H-0.6 Q-0.85 -0.95 -0.85 -0.7 V-0.35 M0.35 -0.95 H0.6 Q0.85 -0.95 0.85 -0.7 V-0.35 M-0.85 0.35 V0.7 Q-0.85 0.95 -0.6 0.95 H-0.35 M0.85 0.35 V0.7 Q0.85 0.95 0.6 0.95 H0.35",
 "M-0.3 0.5 C-0.35 0.2 -0.75 0.05 -0.75 -0.3 A0.75 0.75 0 1 1 0.75 -0.3 C0.75 0.05 0.35 0.2 0.3 0.5 Z M-0.3 0.75 H0.3 M-0.18 1 H0.18 M-0.35 -0.3 H0.35 M0 -0.65 V0.05",
 "M-0.2 -0.4 H-0.7 V1 H0.7 V-0.4 H0.2 M0 0.35 V-1 M-0.35 -0.65 L0 -1 L0.35 -0.65",
 "M-0.55 -1 H0.55 V1 L0 0.7 L-0.55 1 Z M-0.28 -0.55 H0.28 M-0.28 -0.15 H0.28 M-0.28 0.25 H0.28",
 "M-0.95 0 A0.95 0.95 0 1 1 0.95 0 A0.95 0.95 0 1 1 -0.95 0 Z M0.5 -0.5 L0.15 0.2 L-0.5 0.5 L-0.15 -0.15 Z",
 "M-0.3 0.5 C-0.35 0.2 -0.75 0.05 -0.75 -0.3 A0.75 0.75 0 1 1 0.75 -0.3 C0.75 0.05 0.35 0.2 0.3 0.5 Z M-0.3 0.75 H0.3 M-0.18 1 H0.18 M-0.3 -0.3 H0.3 M0 -0.3 V0.4",
 "M-0.85 -0.62 H0.85 M-0.85 0 H0.85 M-0.85 0.62 H0.85"
 ]}}}},
{"data":{"values":[{"minute":912.6,"price":21463.6}]},"mark":{"type":"point","filled":false,"stroke":"#9a9ca3","strokeWidth":2.6,"size":1764,"opacity":1,"shape":"M0.15 -0.55 L0.6 -0.1 L0.15 0.3 M0.6 -0.1 H0 C-0.4 -0.1 -0.5 0.2 -0.5 0.6"}},
{"data":{"values":[{"minute":992.8,"price":21496.8}]},"mark":{"type":"point","filled":false,"stroke":"#c8c9ce","strokeWidth":2,"size":625,"opacity":1,"shape":"M0 -1 L0.75 -0.55 V0.55 L0 1 L-0.75 0.55 V-0.55 Z M0.25 0 A0.25 0.25 0 1 1 -0.25 0 A0.25 0.25 0 1 1 0.25 0 Z"}},
{"data":{"values":[{"minute":930.4,"price":21545.9}]},"mark":{"type":"point","filled":false,"stroke":"#14161c","strokeWidth":2.6,"size":324,"opacity":1,"shape":"M-0.8 -0.8 L0 0 L-0.8 0.8 M0 -0.8 L0.8 0 L0 0.8"}},
{"data":{"values":[{"minute":158.3,"price":21943.6}]},"mark":{"type":"point","filled":false,"stroke":"#d0d1d5","strokeWidth":3,"size":400,"opacity":1,"shape":"M-0.9 -0.4 L0 0.45 L0.9 -0.4"}},
{"data":{"values":[{"minute":1017.1,"price":22015.6}]},"mark":{"type":"point","filled":false,"stroke":"#dddddd","strokeWidth":2.5,"size":100,"opacity":1,"shape":"M-0.9 -0.4 L0 0.45 L0.9 -0.4"}},
{"data":{"values":[{"minute":971.1,"price":22037.9}]},"mark":{"type":"point","filled":false,"stroke":"#000000","strokeWidth":3,"size":784,"opacity":1,"shape":"M-0.9 -0.25 A1.3 1.3 0 0 1 0.9 -0.25 M-0.55 0.12 A0.8 0.8 0 0 1 0.55 0.12 M-0.18 0.5 A0.3 0.3 0 0 1 0.18 0.5"}},
{"data":{"values":[{"minute":1009.7,"price":22037.9}]},"mark":{"type":"point","filled":true,"fill":"#000000","stroke":null,"size":784,"opacity":1,"shape":"M0.2 -1 L-0.55 0.15 H-0.05 L-0.2 1 L0.55 -0.2 H0.05 Z"}},
{"data":{"values":[{"minute":163,"price":21527.2}]},"mark":{"type":"point","filled":true,"fill":"#0c0c0e","stroke":"#ffffff","strokeWidth":2.5,"size":4624,"opacity":1,"shape":"M-1 -0.5 H-0.2 V0.55 H-0.62 V-0.1 H-1 Z M0.28 -0.3 A0.17 0.17 0 1 1 -0.06 -0.3 A0.17 0.17 0 1 1 0.28 -0.3 Z M0.4 -0.5 H1 L0.55 0.55 H0.05 Z"}},
{"data":{"values":[{"minute":779.9,"price":21463.6}]},"mark":{"type":"point","filled":true,"fill":"#ffffff","stroke":null,"size":900,"opacity":1,"shape":"M-1 -0.5 H-0.2 V0.55 H-0.62 V-0.1 H-1 Z M0.28 -0.3 A0.17 0.17 0 1 1 -0.06 -0.3 A0.17 0.17 0 1 1 0.28 -0.3 Z M0.4 -0.5 H1 L0.55 0.55 H0.05 Z"}},
{"data":{"values":[{"minute":419.2,"price":21419.8}]},"mark":{"type":"point","filled":false,"stroke":"#ffffff","strokeWidth":2.5,"size":576,"opacity":1,"shape":"M-0.65 0.3 L-0.2 -0.35 L0.2 0.3 L0.65 -0.35"}}
]
}
